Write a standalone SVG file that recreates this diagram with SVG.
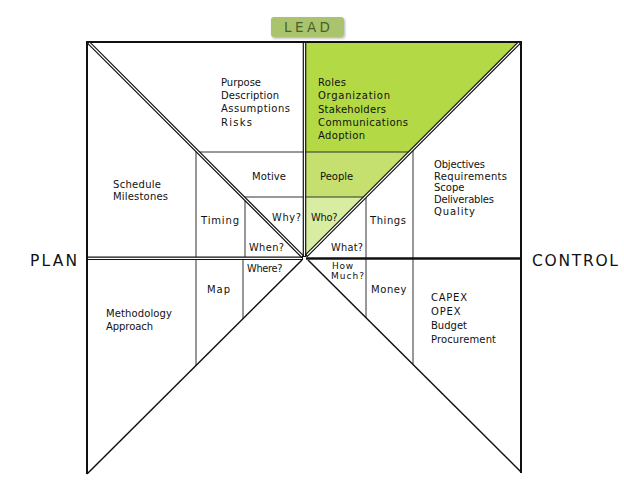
<svg xmlns="http://www.w3.org/2000/svg" width="624" height="492" viewBox="0 0 624 492">
<style>
text{font-family:"DejaVu Sans","Liberation Sans",sans-serif;font-size:10px;fill:#111}
.q{font-size:9.8px}
.s{font-size:9px}
.axis{font-size:15.5px;fill:#111}
.thin{stroke:#333;stroke-width:1;fill:none}
.frame{stroke:#111;stroke-width:2;fill:none;stroke-linecap:square}
.dblo{stroke:#111;stroke-width:3.6;fill:none}
.dbli{stroke:#fff;stroke-width:1.2;fill:none}
.diag{stroke:#111;stroke-width:1.5;fill:none}
</style>
<defs>
<filter id="sh" x="-20%" y="-30%" width="140%" height="170%">
<feDropShadow dx="1" dy="1.5" stdDeviation="1.2" flood-color="#000" flood-opacity="0.3"/>
</filter>
</defs>
<rect width="624" height="492" fill="#fff"/>

<g id="lead">
<rect x="271" y="17" width="73" height="20" rx="3" fill="#a9c46c" filter="url(#sh)"/>
<text x="284" y="32" style="font-size:13.5px;fill:#4b5e27" textLength="46" lengthAdjust="spacing">LEAD</text>
</g>

<g id="fills">
<polygon points="306,43 519,43 410,152 306,152" fill="#b3d945"/>
<polygon points="306,152 410,152 365,197 306,197" fill="#c5e06e"/>
<polygon points="306,197 365,197 306,256" fill="#d8eca2"/>
</g>

<g id="connectors">
<line class="thin" x1="198" y1="152" x2="411" y2="152"/>
<line class="thin" x1="244" y1="197" x2="366" y2="197"/>
<line class="thin" x1="196" y1="151" x2="196" y2="366"/>
<line class="thin" x1="413" y1="150" x2="413" y2="364"/>
<line class="thin" x1="245" y1="197" x2="245" y2="258"/>
<line class="thin" x1="243" y1="258" x2="243" y2="319"/>
<line class="thin" x1="366" y1="197" x2="366" y2="258"/>
<line class="thin" x1="366" y1="258" x2="366" y2="318"/>
<polyline class="frame" points="87,473 87,42 521,42 521,472"/>
<line class="diag" x1="302" y1="260" x2="87" y2="474"/>
<line class="diag" x1="308" y1="260" x2="521" y2="472"/>
<line x1="87" y1="258.3" x2="303" y2="258.3" class="dblo"/>
<line x1="88" y1="258.3" x2="302" y2="258.3" class="dbli"/>
<line x1="306" y1="258.5" x2="521" y2="258.5" stroke="#111" stroke-width="2.6"/>
<line x1="304.5" y1="42" x2="304.5" y2="257" class="dblo"/>
<line x1="304.5" y1="43" x2="304.5" y2="256" class="dbli"/>
<line x1="88" y1="42" x2="303" y2="257" class="dblo"/>
<line x1="89" y1="43" x2="302" y2="256" class="dbli"/>
<line x1="520" y1="42" x2="306" y2="256" class="dblo"/>
<line x1="519" y1="43" x2="307" y2="255" class="dbli"/>
</g>

<g id="why-panel">
<text x="221" y="85.5" textLength="40" lengthAdjust="spacing">Purpose</text>
<text x="221" y="99" textLength="58" lengthAdjust="spacing">Description</text>
<text x="221" y="112.3" textLength="69" lengthAdjust="spacing">Assumptions</text>
<text x="221" y="125.5" textLength="31" lengthAdjust="spacing">Risks</text>
</g>

<g id="who-panel">
<text x="318" y="85.5" textLength="28" lengthAdjust="spacing">Roles</text>
<text x="318" y="99" textLength="72" lengthAdjust="spacing">Organization</text>
<text x="318" y="112.5" textLength="68" lengthAdjust="spacing">Stakeholders</text>
<text x="318" y="126" textLength="90" lengthAdjust="spacing">Communications</text>
<text x="318" y="138.5" textLength="47" lengthAdjust="spacing">Adoption</text>
</g>

<g id="what-panel">
<text x="434" y="167.5" textLength="51" lengthAdjust="spacing">Objectives</text>
<text x="434" y="179.5" textLength="73" lengthAdjust="spacing">Requirements</text>
<text x="434" y="191">Scope</text>
<text x="434" y="203" textLength="60" lengthAdjust="spacing">Deliverables</text>
<text x="434" y="215" textLength="41" lengthAdjust="spacing">Quality</text>
</g>

<g id="when-panel">
<text x="113" y="187.5" textLength="48" lengthAdjust="spacing">Schedule</text>
<text x="113" y="199.5" textLength="55" lengthAdjust="spacing">Milestones</text>
</g>

<g id="where-panel">
<text x="106" y="316.5" textLength="66" lengthAdjust="spacing">Methodology</text>
<text x="106" y="329.5" textLength="47" lengthAdjust="spacing">Approach</text>
</g>

<g id="howmuch-panel">
<text x="431" y="301" textLength="36" lengthAdjust="spacing">CAPEX</text>
<text x="431" y="315" textLength="29.5" lengthAdjust="spacing">OPEX</text>
<text x="431" y="329">Budget</text>
<text x="431" y="343" textLength="65" lengthAdjust="spacing">Procurement</text>
</g>

<g id="ring-labels">
<text x="252" y="180" textLength="34" lengthAdjust="spacing">Motive</text>
<text x="320" y="180">People</text>
<text x="201" y="224" textLength="38" lengthAdjust="spacing">Timing</text>
<text x="370" y="224" textLength="36" lengthAdjust="spacing">Things</text>
<text x="207" y="293" textLength="23" lengthAdjust="spacing">Map</text>
<text x="371" y="293" textLength="35.5" lengthAdjust="spacing">Money</text>
</g>

<g id="questions">
<text class="q" x="272" y="221" textLength="29" lengthAdjust="spacing">Why?</text>
<text class="q" x="311" y="221" textLength="26.5" lengthAdjust="spacing">Who?</text>
<text class="q" x="249" y="251" textLength="35" lengthAdjust="spacing">When?</text>
<text class="q" x="331" y="251" textLength="32" lengthAdjust="spacing">What?</text>
<text class="q" x="247" y="272" textLength="35.5" lengthAdjust="spacing">Where?</text>
<text class="s" x="332" y="268.5" textLength="21" lengthAdjust="spacing">How</text>
<text class="s" x="331" y="278.5" textLength="33" lengthAdjust="spacing">Much?</text>
</g>

<g id="axes">
<text class="axis" x="30" y="266" textLength="47" lengthAdjust="spacing">PLAN</text>
<text class="axis" x="532" y="266" textLength="86" lengthAdjust="spacing">CONTROL</text>
</g>
</svg>
